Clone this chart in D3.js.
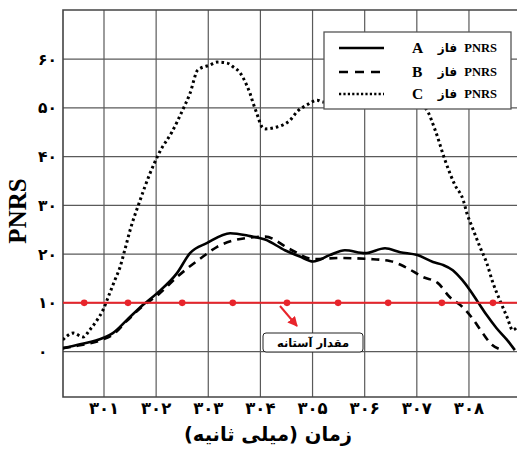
<!DOCTYPE html>
<html><head><meta charset="utf-8">
<script src="https://cdn.jsdelivr.net/npm/d3@7"></script>
<style>body{margin:0;background:#fff}svg{display:block}</style>
</head><body>
<svg id="c" width="517" height="453"></svg>
<script>
// ---- data ----
const xTicks = [301,302,303,304,305,306,307,308];
const xTickLabels = ["۳۰۱","۳۰۲","۳۰۳","۳۰۴","۳۰۵","۳۰۶","۳۰۷","۳۰۸"];
const yTicks = [0,10,20,30,40,50,60];
const yTickLabels = ["۰","۱۰","۲۰","۳۰","۴۰","۵۰","۶۰"];
const threshold = 10;
const thresholdMarkers = [300.62,301.46,302.50,303.47,304.51,305.49,306.45,307.48,308.46];

const timeA = [300.21,300.54,300.98,301.17,301.44,301.75,302.02,302.40,302.65,302.98,303.42,303.80,304.09,304.47,304.76,305.01,305.33,305.62,306.01,306.39,306.68,307.01,307.31,307.50,307.69,307.87,308.02,308.17,308.34,308.53,308.73,308.88];
const seriesA = [0.7,1.5,2.8,3.8,6.5,9.6,12.0,16.1,20.2,22.3,24.3,23.7,23.0,20.8,19.5,18.5,19.8,20.8,20.2,21.2,20.4,19.8,18.4,17.8,16.7,14.7,12.6,10.2,7.5,4.8,2.4,0.3];

const timeB = [300.21,300.54,300.98,301.17,301.44,301.75,302.02,302.40,302.59,302.90,303.17,303.48,303.74,304.09,304.57,305.01,305.52,306.09,306.48,306.77,307.12,307.40,307.63,307.87,308.06,308.25,308.44,308.59];
const seriesB = [0.7,1.3,2.5,3.5,6.3,9.4,11.5,15.3,17.0,19.5,21.5,22.8,23.3,23.6,21.0,19.0,19.2,19.0,18.6,17.4,15.3,14.1,11.2,9.2,6.9,4.0,1.4,0.5];

const timeC = [300.21,300.41,300.60,300.73,300.87,300.98,301.11,301.21,301.31,301.40,301.50,301.69,301.88,302.07,302.30,302.51,302.65,302.80,303.03,303.17,303.36,303.48,303.61,303.71,303.80,303.86,303.93,304.03,304.09,304.32,304.43,304.57,304.70,304.89,305.09,305.20,305.62,306.20,306.68,307.16,307.35,307.54,307.73,307.89,307.96,308.06,308.21,308.34,308.46,308.59,308.73,308.84,308.92];
const seriesC = [2.4,3.8,3.0,4.5,6.5,8.5,12.0,14.7,17.4,20.9,24.9,31.0,36.5,41.0,45.0,49.6,53.0,57.8,58.8,59.4,59.2,58.4,57.2,55.3,53.0,51.0,48.9,46.1,45.7,46.1,46.5,47.5,49.2,50.6,51.6,51.2,52.0,53.0,52.0,50.0,45.5,39.3,34.2,31.1,28.4,25.6,21.5,18.2,14.1,10.6,7.1,4.4,5.0];

const legendLetters = ["A","B","C"];

// ---- chart ----
(function(){
const svg = d3.select("#c");
const pL = 63, pT = 10, pR = 517, pB = 397;
const x = d3.scaleLinear().domain([300,309]).range([51.86, 521.1]);
const y = d3.scaleLinear().domain([0,60]).range([351.6, 59.2]);

const defs = svg.append("defs");
defs.append("clipPath").attr("id","clip").append("rect")
  .attr("x",pL).attr("y",pT).attr("width",pR-pL+10).attr("height",pB-pT);
const mk = defs.append("marker").attr("id","arr").attr("viewBox","0 0 10 10")
  .attr("refX",9).attr("refY",5).attr("markerWidth",5).attr("markerHeight",5).attr("orient","auto");
mk.append("path").attr("d","M0,0 L10,5 L0,10 z").attr("fill","#e8242b");

// grid
const g = svg.append("g");
g.selectAll(".vg").data(xTicks).join("line")
  .attr("x1",d=>x(d)).attr("x2",d=>x(d)).attr("y1",pT).attr("y2",pB)
  .attr("stroke","#5a5a5a").attr("stroke-width",1.2);
g.selectAll(".hg").data(yTicks).join("line")
  .attr("x1",pL).attr("x2",pR+5).attr("y1",d=>y(d)).attr("y2",d=>y(d))
  .attr("stroke","#5a5a5a").attr("stroke-width",1.2);
g.append("path").attr("d",`M${pR+5},${pT}H${pL}V${pB}H${pR+5}`)
  .attr("fill","none").attr("stroke","#444").attr("stroke-width",1.6);

// tick labels
svg.selectAll(".xl").data(xTicks).join("text")
  .attr("x",d=>x(d)).attr("y",414).attr("text-anchor","middle")
  .attr("font-family","DejaVu Sans").attr("font-weight","bold").attr("font-size",16.5)
  .text((d,i)=>xTickLabels[i]);
svg.selectAll(".yl").data(yTicks).join("text")
  .attr("x",38).attr("y",d=>y(d)+5.5).attr("text-anchor","start")
  .attr("font-family","DejaVu Sans").attr("font-weight","bold").attr("font-size",15.5)
  .text((d,i)=>yTickLabels[i]);

// axis titles
svg.append("text").attr("x",268).attr("y",441).attr("text-anchor","middle")
  .attr("direction","rtl")
  .attr("font-family","DejaVu Sans").attr("font-weight","bold").attr("font-size",19.5)
  .text("زمان (میلی ثانیه)");
svg.append("text").attr("transform","translate(26,211) rotate(-90)")
  .attr("text-anchor","middle")
  .attr("font-family","Liberation Serif").attr("font-weight","bold").attr("font-size",25)
  .text("PNRS");

// curves
const line = d3.line().x(d=>x(d[0])).y(d=>y(d[1])).curve(d3.curveMonotoneX);
const plot = svg.append("g").attr("clip-path","url(#clip)");
const dA = timeA.map((t,i)=>[t,seriesA[i]]);
const dB = timeB.map((t,i)=>[t,seriesB[i]]);
const dC = timeC.map((t,i)=>[t,seriesC[i]]);
plot.append("path").attr("d",line(dC)).attr("fill","none").attr("stroke","#000")
  .attr("stroke-width",3).attr("stroke-dasharray","2.6,3");
plot.append("path").attr("d",line(dB)).attr("fill","none").attr("stroke","#000")
  .attr("stroke-width",2.6).attr("stroke-dasharray","8,6");
plot.append("path").attr("d",line(dA)).attr("fill","none").attr("stroke","#000")
  .attr("stroke-width",2.6);

// threshold
plot.append("line").attr("x1",pL).attr("x2",pR+5).attr("y1",y(threshold)).attr("y2",y(threshold))
  .attr("stroke","#e8242b").attr("stroke-width",2);
plot.selectAll(".tm").data(thresholdMarkers).join("circle")
  .attr("cx",d=>x(d)).attr("cy",y(threshold)).attr("r",3.3).attr("fill","#e8242b");

// annotation
svg.append("line").attr("x1",280).attr("y1",306).attr("x2",297).attr("y2",326)
  .attr("stroke","#e8242b").attr("stroke-width",2).attr("marker-end","url(#arr)");
svg.append("rect").attr("x",263).attr("y",333).attr("width",100).attr("height",19).attr("rx",3)
  .attr("fill","#fff").attr("stroke","#222").attr("stroke-width",1);
svg.append("text").attr("x",313).attr("y",347).attr("text-anchor","middle").attr("direction","rtl")
  .attr("font-family","DejaVu Sans").attr("font-weight","bold").attr("font-size",11.5)
  .text("مقدار آستانه");

// legend
const lg = svg.append("g");
lg.append("rect").attr("x",324).attr("y",32).attr("width",187).attr("height",77)
  .attr("fill","#fff").attr("stroke","#555").attr("stroke-width",1.3);
const rowsY = [48,72,94];
const dashes = [null,"9,7","2.2,2.2"];
rowsY.forEach((ry,i)=>{
  const l = lg.append("line").attr("x1",339).attr("x2",384).attr("y1",ry).attr("y2",ry)
    .attr("stroke","#000").attr("stroke-width",2.6);
  if (dashes[i]) l.attr("stroke-dasharray",dashes[i]);
  lg.append("text").attr("x",412).attr("y",ry+5).attr("font-family","Liberation Serif")
    .attr("font-weight","bold").attr("font-size",15.5).text(legendLetters[i]);
  lg.append("text").attr("x",457).attr("y",ry+4).attr("text-anchor","end")
    .attr("font-family","DejaVu Sans").attr("font-weight","bold").attr("font-size",12).text("فاز");
  lg.append("text").attr("x",497).attr("y",ry+4).attr("text-anchor","end")
    .attr("font-family","Liberation Serif").attr("font-weight","bold").attr("font-size",12.5).text("PNRS");
});
})();
</script>
</body></html>
